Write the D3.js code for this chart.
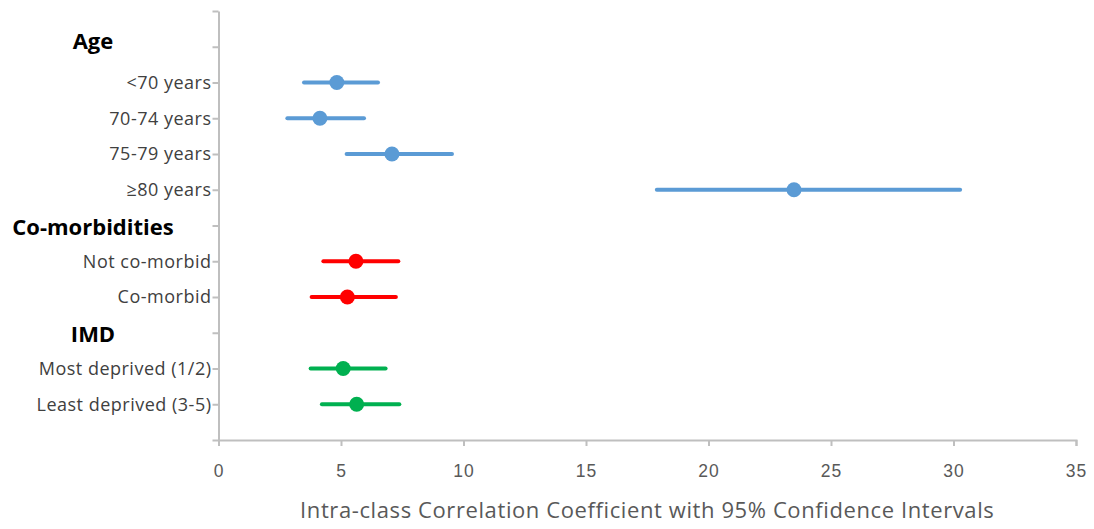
<!DOCTYPE html>
<html>
<head>
<meta charset="utf-8">
<script src="https://cdn.jsdelivr.net/npm/d3@7"></script>
<style>
  body { margin: 0; background: #fff; }
  svg { font-family: "Open Sans", Lato, sans-serif; }
</style>
</head>
<body>
<div id="chart"></div>
<script>
// Row labels, top to bottom (headers are bold, no data)
const rows = ["Age", "<70 years", "70-74 years", "75-79 years", "≥80 years",
  "Co-morbidities", "Not co-morbid", "Co-morbid",
  "IMD", "Most deprived (1/2)", "Least deprived (3-5)"];
const headers = ["Age", "Co-morbidities", "IMD"];

// Estimates and 95% CIs
const groups = ["age", "age", "age", "age", "comorb", "comorb", "imd", "imd"];
const labels = ["<70 years", "70-74 years", "75-79 years", "≥80 years",
  "Not co-morbid", "Co-morbid", "Most deprived (1/2)", "Least deprived (3-5)"];
const icc = [4.83, 4.14, 7.08, 23.49, 5.61, 5.26, 5.09, 5.64];
const lower = [3.49, 2.81, 5.23, 17.89, 4.28, 3.80, 3.76, 4.22];
const upper = [6.51, 5.94, 9.53, 30.27, 7.34, 7.24, 6.82, 7.38];

const xTicks = [0, 5, 10, 15, 20, 25, 30, 35];
const xTitle = "Intra-class Correlation Coefficient with 95% Confidence Intervals";

const colors = { age: "#5B9BD5", comorb: "#FF0000", imd: "#00B050" };

const W = 1094, H = 529;
const plot = { left: 218.5, right: 1076, top: 11, bottom: 440 };

const svg = d3.select("#chart").append("svg")
  .attr("width", W).attr("height", H);

const x = d3.scaleLinear().domain([0, 35]).range([plot.left, plot.right]);
// rows sit on integer positions 1..11 of a 0..12 axis
const y = d3.scaleLinear().domain([0, rows.length + 1]).range([plot.top, plot.bottom]);
const rowPos = d => rows.indexOf(d) + 1;

const axisColor = "#BFBFBF";

// x axis
const xAxis = svg.append("g")
  .attr("transform", `translate(0,${plot.bottom})`)
  .call(d3.axisBottom(x).tickValues(xTicks).tickSize(6).tickPadding(19).tickSizeOuter(6));
xAxis.select(".domain").attr("stroke", axisColor).attr("stroke-width", 2);
xAxis.selectAll(".tick line").attr("stroke", axisColor).attr("stroke-width", 2);
xAxis.selectAll(".tick text")
  .attr("fill", "#595959")
  .style("font-size", "17.5px")
  .style("letter-spacing", "1px");

// y axis: a tick at every integer, labels only for real rows
const yAxis = svg.append("g")
  .attr("transform", `translate(${plot.left},0)`)
  .call(d3.axisLeft(y).tickValues(d3.range(0, rows.length + 2)).tickSize(6).tickSizeOuter(0)
    .tickFormat(() => ""));
yAxis.select(".domain").attr("stroke", axisColor).attr("stroke-width", 2);
yAxis.selectAll(".tick line").attr("stroke", axisColor).attr("stroke-width", 2);

// row labels
svg.append("g").selectAll("text")
  .data(rows.filter(r => !headers.includes(r)))
  .enter().append("text")
  .attr("x", plot.left - 7)
  .attr("y", d => y(rowPos(d)))
  .attr("dy", "0.35em")
  .attr("text-anchor", "end")
  .attr("fill", "#404040")
  .style("font-size", "18px")
  .style("letter-spacing", "0.5px")
  .text(d => d);

// section headers
svg.append("g").selectAll("text")
  .data(headers)
  .enter().append("text")
  .attr("x", 93)
  .attr("y", d => y(rowPos(d)) + (d === "Age" ? -5 : 2))
  .attr("dy", "0.35em")
  .attr("text-anchor", "middle")
  .attr("fill", "#000")
  .style("font-size", "22px")
  .style("font-weight", "bold")
  .text(d => d);

// CI lines and points
const data = labels.map((l, i) => ({ label: l, group: groups[i], icc: icc[i], lo: lower[i], hi: upper[i] }));

svg.append("g").selectAll("line")
  .data(data)
  .enter().append("line")
  .attr("x1", d => x(d.lo))
  .attr("x2", d => x(d.hi))
  .attr("y1", d => y(rowPos(d.label)))
  .attr("y2", d => y(rowPos(d.label)))
  .attr("stroke", d => colors[d.group])
  .attr("stroke-width", 4)
  .attr("stroke-linecap", "round");

svg.append("g").selectAll("circle")
  .data(data)
  .enter().append("circle")
  .attr("cx", d => x(d.icc))
  .attr("cy", d => y(rowPos(d.label)))
  .attr("r", 7.5)
  .attr("fill", d => colors[d.group]);

// x axis title
svg.append("text")
  .attr("x", (plot.left + plot.right) / 2)
  .attr("y", 510)
  .attr("dy", "0.35em")
  .attr("text-anchor", "middle")
  .attr("fill", "#595959")
  .style("font-size", "22px")
  .style("letter-spacing", "0.6px")
  .text(xTitle);
</script>
</body>
</html>
